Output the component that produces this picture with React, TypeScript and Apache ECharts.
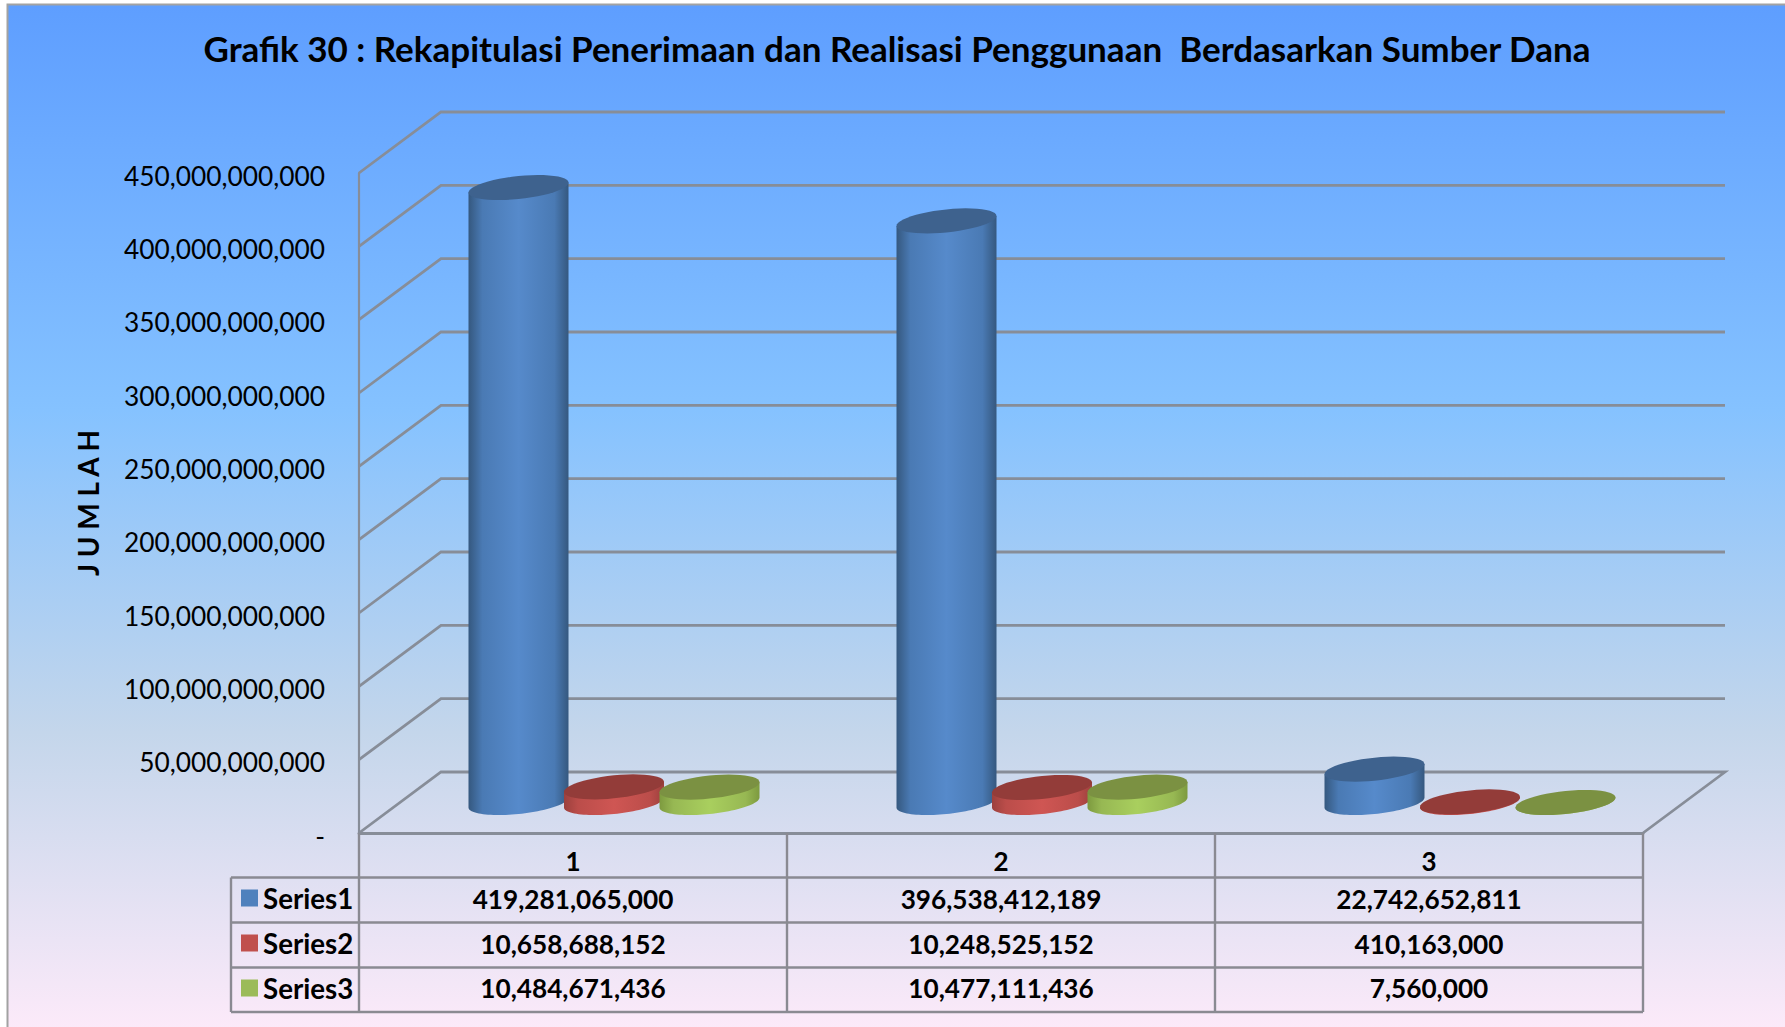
import React, { useEffect, useRef } from "react";
import * as echarts from "echarts";

const titleText = "Grafik 30 : Rekapitulasi Penerimaan dan Realisasi Penggunaan  Berdasarkan Sumber Dana";
const categories = ["1", "2", "3"];
const seriesNames = ["Series1", "Series2", "Series3"];
const series1 = [419281065000, 396538412189, 22742652811];
const series2 = [10658688152, 10248525152, 410163000];
const series3 = [10484671436, 10477111436, 7560000];
const allSeries = [series1, series2, series3];
const yTicks = [0, 50e9, 100e9, 150e9, 200e9, 250e9, 300e9, 350e9, 400e9, 450e9];

const FONT = "Lato";
const GRID = { left: 359, top: 173, width: 1284, height: 660 };
const DEPTH_X = 82;
const DEPTH_Y = 61;
const RADIUS = 50;
const GAP = 95.5;
const GRIDLINE = "#878d98";
const TABLE_LINE = "#8a8a92";

const palettes = [
  { swatch: "#4f81bd", dark: "#35587f", mid: "#4a7ab4", light: "#568acb", top: "#3e628e" },
  { swatch: "#c0504d", dark: "#9c403d", mid: "#bb4d4a", light: "#cf5653", top: "#933c39" },
  { swatch: "#9bbb59", dark: "#7d9a3f", mid: "#97b853", light: "#a9cf5e", top: "#7b9142" },
];

function ellipsePoints(cx: number, cy: number, from: number, to: number) {
  const pts: number[][] = [];
  const n = 48;
  for (let i = 0; i <= n; i++) {
    const t = from + ((to - from) * i) / n;
    pts.push([cx + RADIUS * Math.cos(t), cy + 11.5 * Math.sin(t) - 5 * Math.cos(t)]);
  }
  return pts;
}

function cylinderRenderer(seriesIndex: number) {
  const p = palettes[seriesIndex];
  return (_params: any, api: any) => {
    const cat = api.value(0);
    const val = api.value(1);
    const topPt = api.coord([cat, val]);
    const basePt = api.coord([cat, 0]);
    const cx = topPt[0] + DEPTH_X / 2 + (seriesIndex - 1) * GAP;
    const topY = topPt[1] - DEPTH_Y / 2;
    const baseY = basePt[1] - DEPTH_Y / 2;
    const lower = ellipsePoints(cx, baseY, Math.PI, 0);
    const body = [
      [cx - RADIUS, topY + 5],
      ...lower,
      [cx + RADIUS, topY - 5],
    ];
    return {
      type: "group",
      children: [
        {
          type: "polygon",
          shape: { points: body },
          style: {
            fill: new echarts.graphic.LinearGradient(0, 0, 1, 0, [
              { offset: 0, color: p.dark },
              { offset: 0.14, color: p.mid },
              { offset: 0.5, color: p.light },
              { offset: 0.86, color: p.mid },
              { offset: 1, color: p.dark },
            ]),
          },
        },
        {
          type: "polygon",
          shape: { points: ellipsePoints(cx, topY, 0, Math.PI * 2) },
          style: { fill: p.top },
        },
      ],
    };
  };
}

function wallRenderer(params: any, api: any) {
  const cs = params.coordSys;
  const y = api.coord([0, api.value(1)])[1];
  const pts = [
    [cs.x, y],
    [cs.x + DEPTH_X, y - DEPTH_Y],
    [cs.x + cs.width + DEPTH_X, y - DEPTH_Y],
  ];
  if (api.value(1) === 0) pts.push([cs.x + cs.width, y]);
  return {
    type: "polyline",
    shape: { points: pts },
    style: { stroke: GRIDLINE, lineWidth: 2.8, fill: "none" },
  };
}

function tableGraphics() {
  const gfx: any[] = [];
  const col = [GRID.left, GRID.left + 428, GRID.left + 856, GRID.left + GRID.width];
  const rows = [877.5, 922.5, 967.5, 1012];
  const tableLeft = 231;
  const line = (x1: number, y1: number, x2: number, y2: number) => ({
    type: "line",
    z: 1,
    silent: true,
    shape: { x1, y1, x2, y2 },
    style: { stroke: TABLE_LINE, lineWidth: 2.4 },
  });
  rows.forEach((y) => gfx.push(line(tableLeft, y, col[3], y)));
  col.forEach((x) => gfx.push(line(x, GRID.top + GRID.height, x, rows[3])));
  gfx.push(line(tableLeft, rows[0], tableLeft, rows[3]));
  allSeries.forEach((vals, r) => {
    vals.forEach((v, c) => {
      gfx.push({
        type: "text",
        z: 3,
        x: (col[c] + col[c + 1]) / 2,
        y: (rows[r] + rows[r + 1]) / 2 - 1.5,
        style: {
          text: v.toLocaleString("en-US"),
          font: `bold 26.2px ${FONT}`,
          fill: "#000",
          align: "center",
          verticalAlign: "middle",
        },
      });
    });
  });
  return gfx;
}

export default function App() {
  const ref = useRef<HTMLDivElement>(null);
  useEffect(() => {
    document.body.style.margin = "0";
    const chart = echarts.init(ref.current!, undefined, { renderer: "svg" });
    chart.setOption({
      animation: false,
      backgroundColor: "#ffffff",
      title: {
        text: titleText,
        left: 892,
        top: 25,
        textAlign: "center",
        textStyle: { fontFamily: FONT, fontWeight: "bold", fontSize: 35, color: "#000" },
      },
      legend: {
        data: seriesNames,
        orient: "vertical",
        left: 241,
        top: 884,
        padding: 0,
        itemGap: 17,
        itemWidth: 17,
        itemHeight: 17,
        icon: "rect",
        selectedMode: false,
        textStyle: { fontFamily: FONT, fontWeight: "bold", fontSize: 27.7, color: "#000", padding: [0, 0, 0, 0] },
      },
      grid: { ...GRID, containLabel: false },
      xAxis: {
        type: "category",
        data: categories,
        axisLine: { show: true, lineStyle: { color: GRIDLINE, width: 2.8 } },
        axisTick: { show: false },
        splitLine: { show: false },
        axisLabel: { margin: 15, fontFamily: FONT, fontWeight: "bold", fontSize: 26, color: "#000" },
      },
      yAxis: {
        type: "value",
        min: 0,
        max: 450e9,
        interval: 50e9,
        name: "J U M L A H",
        nameLocation: "middle",
        nameRotate: 90,
        nameGap: 257,
        nameTextStyle: { fontFamily: FONT, fontWeight: "bold", fontSize: 28, color: "#000" },
        axisLine: { show: true, lineStyle: { color: GRIDLINE, width: 2.2 } },
        axisTick: { show: false },
        splitLine: { show: false },
        axisLabel: {
          margin: 34,
          color: "#000",
          rich: {
            v: { fontFamily: FONT, fontSize: 26.3, color: "#000", padding: [5, 0, 0, 0] },
          },
          formatter: (v: number) => `{v|${v === 0 ? "-" : v.toLocaleString("en-US")}}`,
        },
      },
      graphic: {
        elements: [
          {
            type: "rect",
            z: -10,
            silent: true,
            shape: { x: 7.5, y: 4.5, width: 1800, height: 1040 },
            style: {
              stroke: "#a2a2a2",
              lineWidth: 2,
              fill: new echarts.graphic.LinearGradient(0, 0, 0, 1, [
                { offset: 0, color: "#5e9eff" },
                { offset: 0.39, color: "#85c2ff" },
                { offset: 0.7, color: "#c4d6eb" },
                { offset: 1, color: "#ffebfa" },
              ]),
            },
          },
          ...tableGraphics(),
        ],
      },
      series: [
        {
          type: "custom",
          name: "walls",
          z: 1,
          silent: true,
          renderItem: wallRenderer,
          encode: { x: 0, y: 1 },
          data: yTicks.map((t) => [0, t]),
        },
        ...allSeries.map((vals, i) => ({
          type: "custom",
          name: seriesNames[i],
          z: 3 + i,
          silent: true,
          itemStyle: { color: palettes[i].swatch },
          renderItem: cylinderRenderer(i),
          encode: { x: 0, y: 1 },
          data: vals.map((v, c) => [c, v]),
        })),
      ],
    });
    return () => chart.dispose();
  }, []);
  return <div ref={ref} style={{ width: 1785, height: 1027 }} />;
}
